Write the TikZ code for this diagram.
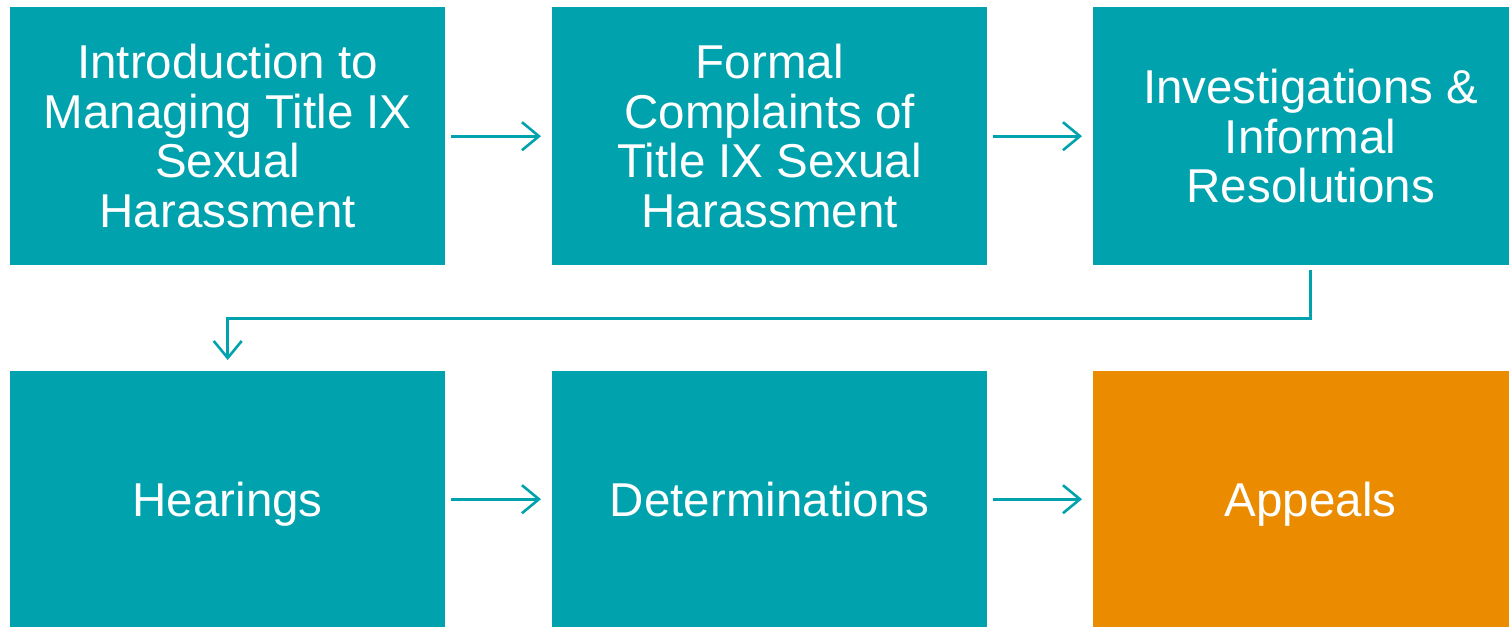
\documentclass[tikz,border=0pt]{standalone}
\usepackage{fontspec}
\setmainfont{Liberation Sans}
\usetikzlibrary{arrows.meta}
\definecolor{teal1}{RGB}{0,162,173}
\definecolor{orange1}{RGB}{234,139,0}
\newcommand{\nodepth}[1]{\raisebox{0pt}[\height][0pt]{#1}}
\tikzset{
  box/.style={fill=teal1, minimum width=435pt, minimum height=258pt, inner sep=0pt, text=white,
    font=\fontsize{47.5pt}{49.5pt}\selectfont, align=center, anchor=north west},
  conn/.style={draw=teal1, line width=2.6pt, -{Straight Barb[length=17pt,width=28pt,line width=2.6pt]}}
}
\begin{document}
\begin{tikzpicture}[x=1pt,y=-1pt]
\useasboundingbox (0,0) rectangle (1509,627);
\node[box] (b1) at (10,7) {Introduction to\\Managing Title IX\\Sexual\\Harassment};
\node[box] (b2) at (552,7) {Formal\\Complaints of\\Title IX Sexual\\Harassment};
\node[box] (b3) at (1093,7) {Investigations \&\\Informal\\Resolutions};
\node[box, minimum height=256pt] (b4) at (10,371) {\nodepth{Hearings}};
\node[box, minimum height=256pt] (b5) at (552,371) {Determinations};
\node[box, minimum height=256pt, fill=orange1] (b6) at (1093,371) {\nodepth{Appeals}};
\draw[conn] ([xshift=6pt]b1.east) -- ([xshift=-11pt]b2.west);
\draw[conn] ([xshift=6pt]b2.east) -- ([xshift=-11pt]b3.west);
\draw[conn] ([xshift=6pt]b4.east) -- ([xshift=-11pt]b5.west);
\draw[conn] ([xshift=6pt]b5.east) -- ([xshift=-11pt]b6.west);
\coordinate (t1) at ([yshift=-5pt]b3.south);
\draw[conn] (t1) -- ++(0,48) -| ([yshift=11pt]b4.north);
\end{tikzpicture}
\end{document}
